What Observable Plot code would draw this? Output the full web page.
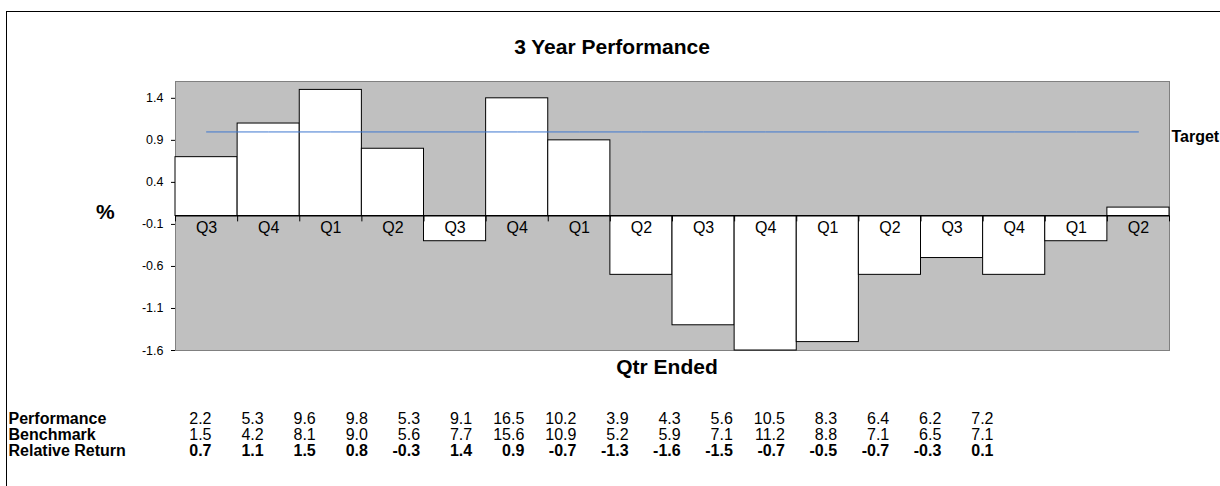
<!DOCTYPE html>
<html><head><meta charset="utf-8">
<script src="https://cdn.jsdelivr.net/npm/d3@7"></script>
<script src="https://cdn.jsdelivr.net/npm/@observablehq/plot@0.6"></script>
<style>
html,body{margin:0;padding:0;background:#fff;overflow:hidden}
body{font-family:"Liberation Sans",Arial,sans-serif;color:#000}
#wrap{position:relative;width:1220px;height:486px;overflow:hidden}
#border{position:absolute;left:6px;top:11px;width:1400px;height:700px;border:1px solid #000;box-sizing:border-box}
.abs{position:absolute;white-space:nowrap;font-weight:bold;line-height:1}
#title{left:0;width:1224px;text-align:center;top:36px;font-size:21px}
#pct{left:96px;top:201px;font-size:21px}
#xlab{left:0;width:1334px;text-align:center;top:356px;font-size:21px}
#main,#table{position:absolute;left:0}
#main{top:0}
#table{top:404px}
</style></head><body>
<div id="wrap">
<div id="border"></div>
<div id="main"></div>
<div id="table"></div>
<div class="abs" id="title">3 Year Performance</div>
<div class="abs" id="pct">%</div>
<div class="abs" id="xlab">Qtr Ended</div>
</div>
<script>
const quarters = ["Q3","Q4","Q1","Q2","Q3","Q4","Q1","Q2","Q3","Q4","Q1","Q2","Q3","Q4","Q1","Q2"];
const performance = [2.2,5.3,9.6,9.8,5.3,9.1,16.5,10.2,3.9,4.3,5.6,10.5,8.3,6.4,6.2,7.2];
const benchmark = [1.5,4.2,8.1,9.0,5.6,7.7,15.6,10.9,5.2,5.9,7.1,11.2,8.8,7.1,6.5,7.1];
const relativeReturn = [0.7,1.1,1.5,0.8,-0.3,1.4,0.9,-0.7,-1.3,-1.6,-1.5,-0.7,-0.5,-0.7,-0.3,0.1];
const target = 1.0;
const yTicks = [-1.6,-1.1,-0.6,-0.1,0.4,0.9,1.4];
const rowLabels = ["Performance","Benchmark","Relative Return"];

const font = "Liberation Sans, Arial, sans-serif";
const idx = quarters.map((_, i) => i);
const bounds = d3.range(quarters.length + 1);

const main = Plot.plot({
  width: 1220, height: 486,
  marginLeft: 175, marginRight: 51, marginTop: 81, marginBottom: 136,
  style: {fontFamily: font, fontSize: "12px", color: "#000", background: "transparent"},
  x: {domain: [0, quarters.length], axis: null},
  y: {domain: [-1.6, 1.6], axis: null},
  marks: [
    Plot.frame({fill: "#c0c0c0", stroke: "#808080"}),
    Plot.rectY(idx, {x1: i => i, x2: i => i + 1, y1: 0, y2: i => relativeReturn[i], fill: "white", stroke: "black", strokeWidth: 1}),
    Plot.ruleY([0], {stroke: "black"}),
    Plot.ruleX(bounds, {x: d => d, y1: 0, y2: -0.07, stroke: "black"}),
    Plot.text(idx, {x: i => i + 0.5, y: 0, text: i => quarters[i], dy: 12, fontSize: 16, fill: "black"}),
    Plot.lineY(idx, {x: i => i + 0.5, y: () => target, stroke: "#3f78cf", strokeWidth: 1}),
    Plot.text([target], {x: quarters.length - 0.5, y: d => d, text: () => "Target", textAnchor: "start", dx: 33, dy: 5, fontWeight: "bold", fontSize: 16, fill: "black"}),
    Plot.axisY({ticks: yTicks, tickFormat: d => d.toFixed(1), tickSize: 4, tickPadding: 8, fontSize: 12.5, stroke: "#000", fill: "#000"})
  ]
});
document.getElementById("main").appendChild(main);

const rows = [performance, benchmark, relativeReturn];
const cells = [];
rows.forEach((arr, r) => arr.forEach((v, i) => cells.push({row: rowLabels[r], i, v, bold: r === 2})));

const table = Plot.plot({
  width: 1220, height: 60,
  marginLeft: 0, marginRight: 0, marginTop: 0, marginBottom: 0,
  style: {fontFamily: font, fontSize: "16px", color: "#000", background: "transparent"},
  x: {domain: [0, quarters.length - 1], range: [211, 993], axis: null},
  y: {type: "point", domain: rowLabels, range: [14, 46], padding: 0, axis: null},
  marks: [
    Plot.text(rowLabels, {frameAnchor: "left", y: d => d, text: d => d, textAnchor: "start", dx: 8, fontWeight: "bold", fontSize: 16, fill: "black"}),
    Plot.text(cells.filter(c => !c.bold), {x: "i", y: "row", text: c => c.v.toFixed(1), textAnchor: "end", fontSize: 16, fill: "black"}),
    Plot.text(cells.filter(c => c.bold), {x: "i", y: "row", text: c => c.v.toFixed(1), textAnchor: "end", fontSize: 16, fontWeight: "bold", fill: "black"})
  ]
});
document.getElementById("table").appendChild(table);
</script>
</body></html>
